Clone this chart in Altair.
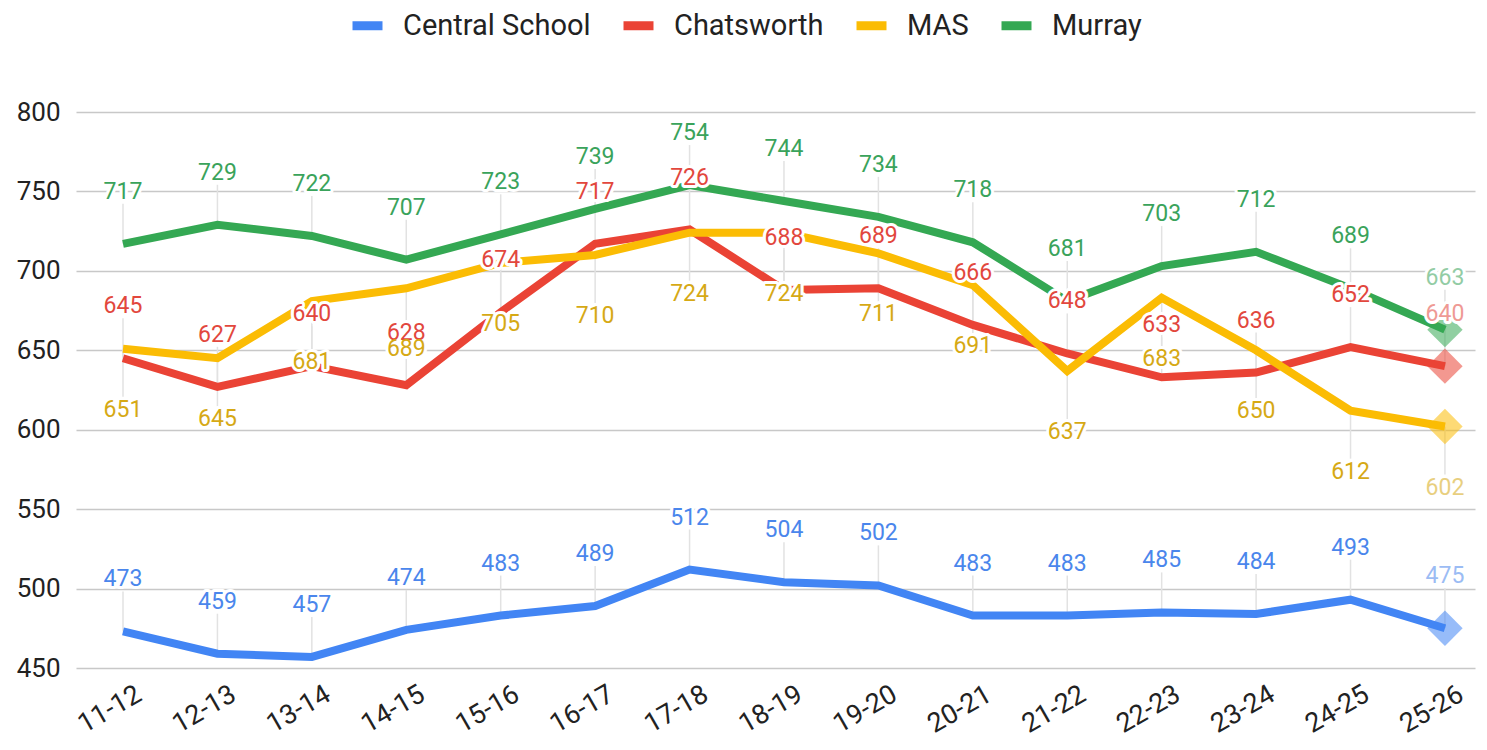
import altair as alt
import pandas as pd

periods = ["11-12", "12-13", "13-14", "14-15", "15-16", "16-17", "17-18", "18-19",
           "19-20", "20-21", "21-22", "22-23", "23-24", "24-25", "25-26"]
series_names = ["Central School", "Chatsworth", "MAS", "Murray"]

central = [473, 459, 457, 474, 483, 489, 512, 504, 502, 483, 483, 485, 484, 493, 475]
chatsworth = [645, 627, 640, 628, 674, 717, 726, 688, 689, 666, 648, 633, 636, 652, 640]
mas = [651, 645, 681, 689, 705, 710, 724, 724, 711, 691, 637, 683, 650, 612, 602]
murray = [717, 729, 722, 707, 723, 739, 754, 744, 734, 718, 681, 703, 712, 689, 663]

line_colors = ["#4285F4", "#EA4335", "#FBBC04", "#34A853"]
label_colors = ["#4A86EC", "#E2473D", "#D6A915", "#3AA35B"]
y_ticks = [450, 500, 550, 600, 650, 700, 750, 800]

rows = []
for name, vals in zip(series_names, [central, chatsworth, mas, murray]):
    for p, v in zip(periods, vals):
        rows.append({"period": p, "series": name, "value": v})
df = pd.DataFrame(rows)

FONT = "Roboto"
last = periods[-1]

x = alt.X(
    "period:O", sort=periods,
    scale=alt.Scale(type="point", padding=0.408, align=0.61),
    axis=alt.Axis(title=None, labelAngle=-30, labelAlign="right", labelBaseline="middle",
                  labelFontSize=27, labelFont=FONT, labelColor="#222222",
                  domain=False, ticks=False, grid=False,
                  labelPadding=24, labelOffset=16),
)
y = alt.Y(
    "value:Q",
    scale=alt.Scale(domain=[450, 800], nice=False, zero=False),
    axis=alt.Axis(title=None, values=y_ticks, grid=True, gridColor="#c8c8c8", gridWidth=1.5,
                  domain=False, ticks=False, labelFontSize=26, labelFont=FONT,
                  labelColor="#222222", labelPadding=16),
)

base = alt.Chart(df)
above = base.transform_filter(alt.datum.series != "MAS")
below = base.transform_filter(alt.datum.series == "MAS")

lead_above = above.mark_rule(color="#e2e2e2", strokeWidth=1.5, y2Offset=-40).encode(
    x=x, y=y, y2="value:Q")
lead_below = below.mark_rule(color="#e2e2e2", strokeWidth=1.5, y2Offset=48).encode(
    x=x, y=y, y2="value:Q")

lines = base.mark_line(strokeWidth=8).encode(
    x=x, y=y,
    color=alt.Color("series:N",
                    scale=alt.Scale(domain=series_names, range=line_colors),
                    legend=alt.Legend(title=None, orient="none", direction="horizontal",
                                      legendX=272, legendY=-106,
                                      symbolType="stroke", symbolStrokeWidth=9,
                                      symbolSize=900, labelFontSize=29, labelFont=FONT,
                                      labelColor="#222222", labelOffset=16, labelLimit=400,
                                      columnPadding=14, padding=0)),
    detail="series:N",
)

diamonds = base.transform_filter(alt.datum.period == last).mark_point(
    shape="diamond", size=1250, filled=True, opacity=0.55, strokeWidth=0).encode(
    x=x, y=y,
    fill=alt.Fill("series:N", scale=alt.Scale(domain=series_names, range=line_colors),
                  legend=None),
)

label_opacity = alt.condition(alt.datum.period == last, alt.value(0.55), alt.value(1.0))


def label_layers(src, dy):
    halo = src.mark_text(fontSize=23, font=FONT, dy=dy, fill="white", stroke="white",
                         strokeWidth=6, strokeJoin="round").encode(
        x=x, y=y, text="value:Q")
    txt = src.mark_text(fontSize=23, font=FONT, dy=dy).encode(
        x=x, y=y, text="value:Q",
        fill=alt.Fill("series:N", scale=alt.Scale(domain=series_names, range=label_colors),
                      legend=None),
        opacity=label_opacity,
    )
    return halo, txt


ha, ta = label_layers(above, -52)
hb, tb = label_layers(below, 61)

chart = alt.layer(lead_above, lead_below, lines, diamonds, ha, hb, ta, tb).resolve_scale(
    fill="independent"
).properties(
    width=1399, height=556,
    autosize=alt.AutoSizeParams(type="none"),
    padding={"left": 68, "top": 104, "right": 4, "bottom": 74},
).configure(font=FONT).configure_view(stroke=None)

chart.save("out.html", embed_options={"renderer": "svg", "actions": False})
